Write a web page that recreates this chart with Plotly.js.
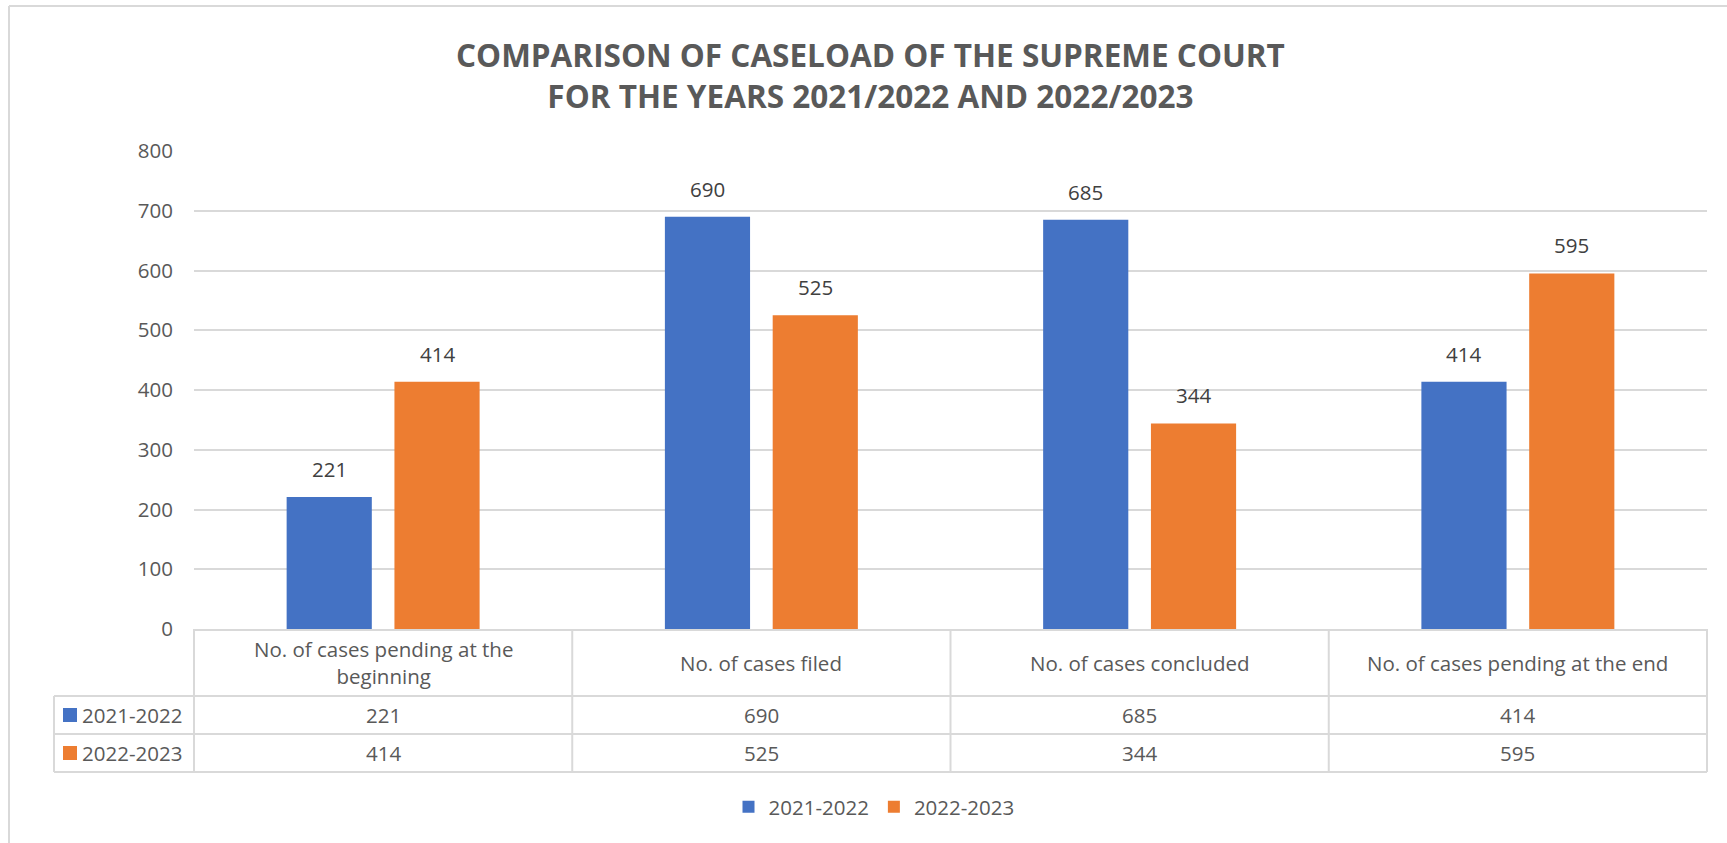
<!DOCTYPE html>
<html>
<head>
<meta charset="utf-8">
<script src="https://cdn.plot.ly/plotly-3.0.1.min.js"></script>
<style>html,body{margin:0;padding:0;background:#fff;}#chart{width:1727px;height:843px;}</style>
</head>
<body>
<div id="chart"></div>
<script>
// ---- data ----
const categories = [
  "No. of cases pending at the beginning",
  "No. of cases filed",
  "No. of cases concluded",
  "No. of cases pending at the end"
];
const categoryLabels = [
  "No. of cases pending at the<br>beginning",
  "No. of cases filed",
  "No. of cases concluded",
  "No. of cases pending at the end"
];
const seriesNames = ["2021-2022", "2022-2023"];
const values2021_2022 = [221, 690, 685, 414];
const values2022_2023 = [414, 525, 344, 595];
const yTicks = [0, 100, 200, 300, 400, 500, 600, 700, 800];
const titleText = "COMPARISON OF CASELOAD OF THE SUPREME COURT<br>FOR THE YEARS 2021/2022 AND 2022/2023";

// ---- layout constants ----
const W = 1727, H = 843;
const L = 194, R = 20, T = 151, B = 214;
const plotW = W - L - R, plotH = H - T - B;
const px = X => (X - L) / plotW;
const py = Y => (H - B - Y) / plotH;
const colors = ["#4472C4", "#ED7D31"];
const textColor = "#595959";
const gridColor = "#D9D9D9";
const FONT = "Open Sans, sans-serif";
const bargap = 0.43;

const seriesValues = [values2021_2022, values2022_2023];

const traces = seriesValues.map((vals, i) => ({
  type: "bar",
  name: seriesNames[i],
  x: categories,
  y: vals,
  marker: {color: colors[i]},
  hoverinfo: "x+y+name"
}));

const shapes = [];
const annotations = [];
const line = (x0, y0, x1, y1, color, width) => shapes.push({
  type: "line", xref: "paper", yref: "paper", x0, y0, x1, y1,
  line: {color: color || gridColor, width: width || 1.5}, layer: "above"
});

// outer chart border (top & left)
line(px(9), py(6), px(1760), py(6), "#D9D9D9", 2);
line(px(9), py(6), px(9), py(900), "#D9D9D9", 2);

// data table grid
const rowY = [629, 696, 734, 772];
line(px(54), py(rowY[1]), 1, py(rowY[1]), gridColor, 2);
line(px(54), py(rowY[2]), 1, py(rowY[2]), gridColor, 2);
line(px(54), py(rowY[3]), 1, py(rowY[3]), gridColor, 2);
line(px(54), py(rowY[1]), px(54), py(rowY[3]), gridColor, 2);
for (let k = 0; k <= categories.length; k++) {
  const xx = k / categories.length;
  line(xx, py(rowY[0]), xx, py(rowY[3]), gridColor, 2);
}

// header row category labels
categories.forEach((c, j) => {
  annotations.push({
    xref: "x", yref: "paper", x: c, y: py((rowY[0] + rowY[1]) / 2),
    text: categoryLabels[j], showarrow: false, yanchor: "middle", xanchor: "center",
    font: {family: FONT, size: 20.5, color: textColor}
  });
});

// value rows
seriesValues.forEach((vals, i) => {
  const yMid = py((rowY[i + 1] + rowY[i + 2]) / 2);
  // legend key
  shapes.push({
    type: "rect", xref: "paper", yref: "paper",
    x0: px(63), x1: px(77),
    y0: py((rowY[i + 1] + rowY[i + 2]) / 2 - 7), y1: py((rowY[i + 1] + rowY[i + 2]) / 2 + 7),
    fillcolor: colors[i], line: {width: 0}
  });
  annotations.push({
    xref: "paper", yref: "paper", x: px(80), y: yMid, xanchor: "left", yanchor: "middle",
    text: seriesNames[i], showarrow: false,
    font: {family: FONT, size: 20.5, color: textColor}
  });
  vals.forEach((v, j) => {
    annotations.push({
      xref: "x", yref: "paper", x: categories[j], y: yMid,
      text: String(v), showarrow: false, xanchor: "center", yanchor: "middle",
      font: {family: FONT, size: 20.5, color: textColor}
    });
  });
});

// data labels above bars
const catW = plotW / categories.length;
const slot = catW * (1 - bargap) / 2;
seriesValues.forEach((vals, i) => {
  vals.forEach((v, j) => {
    annotations.push({
      xref: "x", yref: "y", x: categories[j], y: v,
      xshift: (i - 0.5) * slot, yshift: 12,
      text: String(v), showarrow: false, xanchor: "center", yanchor: "bottom",
      font: {family: FONT, size: 20.5, color: "#404040"}
    });
  });
});

const layout = {
  width: W, height: H,
  margin: {l: L, r: R, t: T, b: B, pad: 0},
  paper_bgcolor: "#FFFFFF",
  plot_bgcolor: "#FFFFFF",
  font: {family: FONT, color: textColor, size: 20},
  title: {
    text: titleText,
    font: {family: FONT, size: 31.5, color: textColor, weight: "bold"},
    x: 0.504, xref: "container", xanchor: "center",
    y: 1 - 67 / H, yref: "container", yanchor: "middle"
  },
  barmode: "group",
  bargap: bargap,
  bargroupgap: 0.21,
  xaxis: {
    showticklabels: false, ticks: "", showgrid: false,
    showline: true, linecolor: gridColor, linewidth: 2,
    fixedrange: true
  },
  yaxis: {
    range: [0, 800], tickvals: yTicks, ticktext: yTicks.map(String),
    showgrid: true, gridcolor: gridColor, gridwidth: 1.5,
    zeroline: false, showline: false, ticks: "",
    ticklabelstandoff: 20,
    tickfont: {family: FONT, size: 20.5, color: textColor},
    fixedrange: true
  },
  showlegend: true,
  legend: {
    orientation: "h", x: px(874), xanchor: "center", y: py(807), yanchor: "middle",
    font: {family: FONT, size: 20.5, color: textColor},
    itemclick: false, itemdoubleclick: false
  },
  shapes: shapes,
  annotations: annotations
};

Plotly.newPlot("chart", traces, layout, {displayModeBar: false, staticPlot: false});
</script>
</body>
</html>
